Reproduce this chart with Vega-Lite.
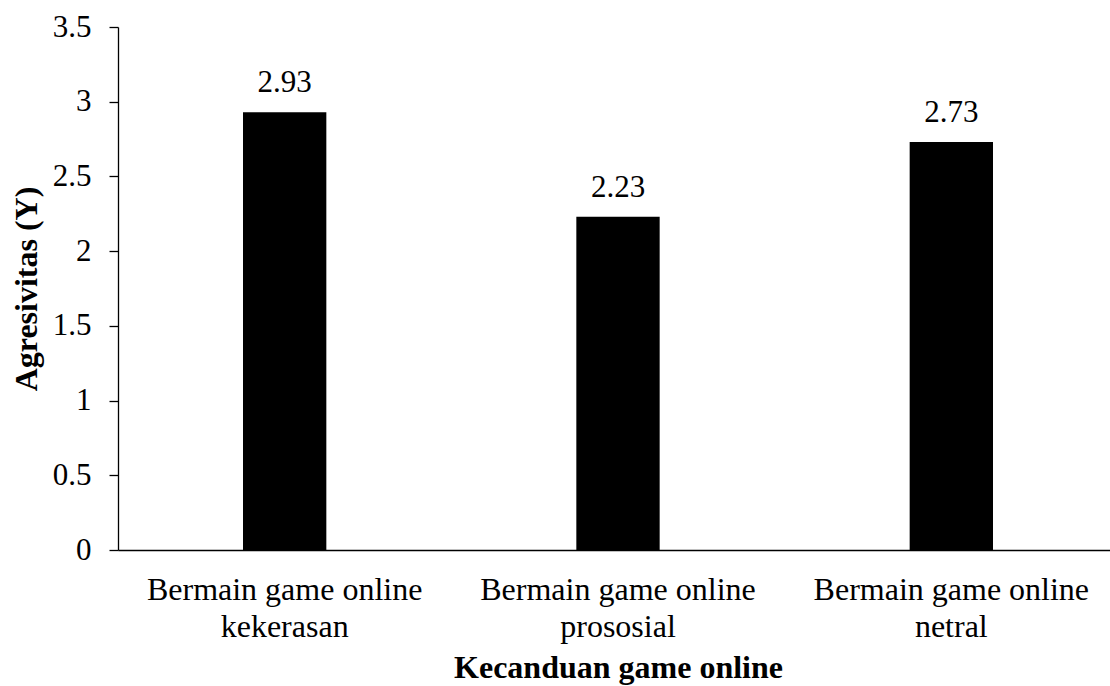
{
  "$schema": "https://vega.github.io/schema/vega-lite/v6.json",
  "width": 992,
  "height": 523,
  "autosize": "none",
  "padding": {"left": 118, "top": 27, "right": 0, "bottom": 136},
  "background": "white",
  "config": {
    "view": {"stroke": null},
    "font": "Liberation Serif",
    "axis": {"grid": false, "domainColor": "#000", "tickColor": "#000", "labelColor": "#000", "titleColor": "#000", "labelFont": "Liberation Serif", "titleFont": "Liberation Serif", "domainWidth": 1.3, "tickWidth": 1.3}
  },
  "data": {
    "values": [
      {"kategori": "Bermain game online kekerasan", "nilai": 2.93},
      {"kategori": "Bermain game online prososial", "nilai": 2.23},
      {"kategori": "Bermain game online netral", "nilai": 2.73}
    ]
  },
  "encoding": {
    "x": {
      "field": "kategori",
      "type": "nominal",
      "sort": null,
      "scale": {"range": [0, 1000], "paddingInner": 0, "paddingOuter": 0},
      "axis": {
        "title": "Kecanduan game online",
        "titleFontSize": 32,
        "titleFontWeight": "bold",
        "titlePadding": 10,
        "labelFontSize": 32,
        "labelAngle": 0,
        "ticks": false,
        "labelPadding": 24,
        "labelLineHeight": 37,
        "labelExpr": "split(replace(datum.label, 'online ', 'online|'), '|')",
        "labelLimit": 400
      }
    },
    "y": {
      "field": "nilai",
      "type": "quantitative",
      "scale": {"domain": [0, 3.5], "nice": false},
      "axis": {
        "title": "Agresivitas (Y)",
        "titleFontSize": 32,
        "titleFontWeight": "bold",
        "titlePadding": 9,
        "labelFontSize": 31,
        "values": [0, 0.5, 1, 1.5, 2, 2.5, 3, 3.5],
        "format": "~g",
        "tickSize": 9,
        "labelPadding": 18
      }
    }
  },
  "layer": [
    {"mark": {"type": "bar", "color": "#000", "width": {"band": 0.25}}},
    {
      "mark": {"type": "text", "fontSize": 31, "baseline": "alphabetic", "dy": -20, "color": "#000", "font": "Liberation Serif"},
      "encoding": {"text": {"field": "nilai", "type": "quantitative", "format": ".2f"}}
    }
  ]
}
